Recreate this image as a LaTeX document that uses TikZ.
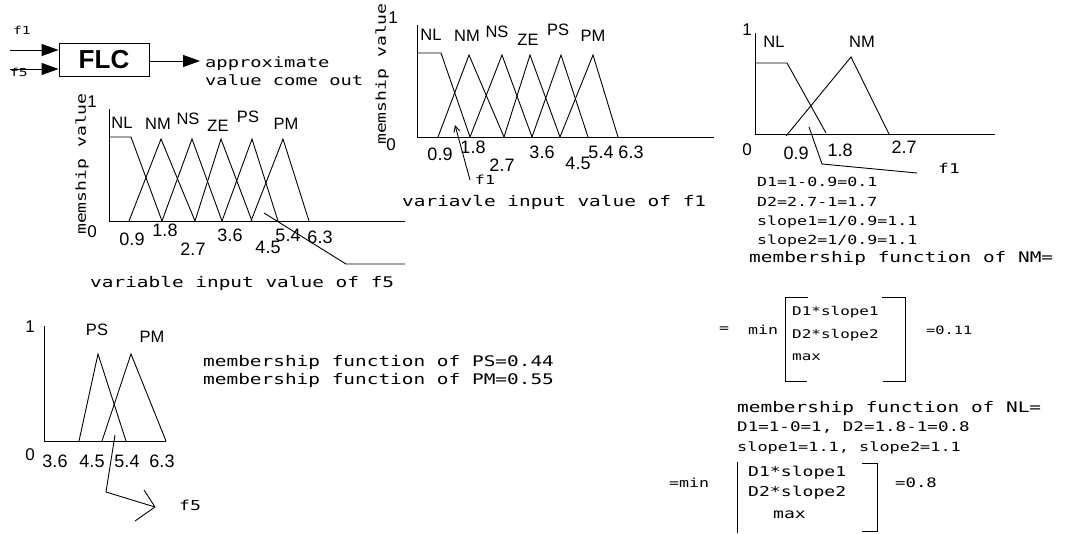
\documentclass[tikz,border=0pt]{standalone}
\usepackage{fontspec}
\setmainfont{Liberation Sans}
\newfontfamily\cad[FakeStretch=1.33]{DejaVu Sans Mono}
\usetikzlibrary{arrows.meta}
\newcommand\cs[1]{\cad\fontsize{#1}{#1}\selectfont}
\newcommand\ls[1]{\fontsize{#1}{#1}\selectfont}
\tikzset{
  ln/.style={line width=0.9pt},
  tx/.style={anchor=west, inner sep=0pt},
  cc/.style={inner sep=0pt},
  lab/.style={inner sep=0pt, font=\ls{16.5}},
  tick/.style={inner sep=0pt, font=\ls{18}},
  big/.style={-{Triangle[length=17pt,width=12pt]}},
  barb/.style={-{Straight Barb[length=6pt,width=6pt]}}
}
\begin{document}
\begin{tikzpicture}[x=1pt,y=-1pt]
\useasboundingbox (0,0) rectangle (1078,533);

% ---------- FLC block ----------
\node[draw, ln, minimum width=90pt, minimum height=33pt, inner sep=0pt, font=\ls{26}\bfseries] (flc) at (104,59.5) {FLC};
\coordinate (i1) at (10,50);
\coordinate (i5) at (10,69);
\coordinate (o) at (200,61);
\draw[ln, big] (i1) -- (i1 -| flc.west);
\draw[ln, big] (i5) -- (i5 -| flc.west);
\draw[ln, big] (flc.east |- o) -- (o);
\node[cc, font=\cs{11}] (lf1) at (22,30) {f1};
\node[cc, font=\cs{11}] (lf5) at (19,72) {f5};
\node[tx, font=\cs{14.1}] (ap1) at (205,64) {approximate};
\node[tx, font=\cs{14.1}] (ap2) at (205,80) {value come out};

% ---------- left graph (f5) ----------
\draw[ln] (109,109) -- (109,221) -- (405,221);
\draw[ln] (109,137) -- (131,137) -- (162,221);
\draw[ln] (129,221) -- (161,139) -- (195,221);
\draw[ln] (162,221) -- (192,139) -- (222,221);
\draw[ln] (195,221) -- (221,139) -- (252,221);
\draw[ln] (222,221) -- (252,139) -- (278,221);
\draw[ln] (251,221) -- (283,139) -- (309,221);
\coordinate (p5a) at (264,213);
\coordinate (p5b) at (346,264);
\coordinate (p5c) at (405,264);
\draw[ln] (p5a) -- (p5b) -- (p5c);
\node[cc, font=\ls{17}] (l1) at (92,102) {1};
\node[cc, font=\ls{17}] (l0) at (92,232) {0};
\node[cc, rotate=90, font=\cs{13.6}] (lmv) at (82,164) {memship value};
\node[lab] (lNL) at (122,123) {NL};
\node[lab] (lNM) at (158,124) {NM};
\node[lab] (lNS) at (188,119) {NS};
\node[lab] (lZE) at (218,126) {ZE};
\node[lab] (lPS) at (248,117) {PS};
\node[lab] (lPM) at (286,124) {PM};
\node[tick] (lt1) at (132,239) {0.9};
\node[tick] (lt2) at (165,230) {1.8};
\node[tick] (lt3) at (193,249) {2.7};
\node[tick] (lt4) at (230,235) {3.6};
\node[tick] (lt5) at (268,247) {4.5};
\node[tick] (lt6) at (288,235) {5.4};
\node[tick] (lt7) at (320,237) {6.3};
\node[tx, font=\cs{14.6}] (lvar) at (90,283) {variable input value of f5};

% ---------- middle graph (f1) ----------
\draw[ln] (417,25) -- (417,137) -- (714,137);
\draw[ln] (417,53) -- (441,53) -- (470,137);
\draw[ln] (438,137) -- (469,55) -- (504,137);
\draw[ln] (470,137) -- (502,55) -- (532,137);
\draw[ln] (504,137) -- (530,55) -- (560,137);
\draw[ln] (532,137) -- (561,55) -- (588,137);
\draw[ln] (560,137) -- (593,55) -- (618,137);
\coordinate (p1a) at (470,180);
\coordinate (p1b) at (455,125);
\draw[ln, barb] (p1a) -- (p1b);
\node[cc, font=\cs{12.5}] (mf1) at (485,180) {f1};
\node[cc, font=\ls{17}] (m1) at (393,18) {1};
\node[cc, font=\ls{17}] (m0) at (391,145) {0};
\node[cc, rotate=90, font=\cs{13.6}] (mmv) at (382,74) {memship value};
\node[lab] (mNL) at (431,35) {NL};
\node[lab] (mNM) at (467,36) {NM};
\node[lab] (mNS) at (497,32) {NS};
\node[lab] (mZE) at (528,40) {ZE};
\node[lab] (mPS) at (558,30) {PS};
\node[lab] (mPM) at (593,36) {PM};
\node[tick] (mt1) at (440,154) {0.9};
\node[tick] (mt2) at (473,147) {1.8};
\node[tick] (mt3) at (502,165) {2.7};
\node[tick] (mt4) at (542,152) {3.6};
\node[tick] (mt5) at (578,163) {4.5};
\node[tick] (mt6) at (601,152) {5.4};
\node[tick] (mt7) at (631,152) {6.3};
\node[tx, font=\cs{14.6}] (mvar) at (402,202) {variavle input value of f1};

% ---------- right graph ----------
\draw[ln] (755,33) -- (755,134) -- (995,134);
\draw[ln] (755,63) -- (787,63) -- (826,133);
\draw[ln] (786,136) -- (851,57) -- (889,134);
\coordinate (q1a) at (809,127);
\coordinate (q1b) at (822,164);
\coordinate (q1c) at (917,173);
\draw[ln] (q1a) -- (q1b) -- (q1c);
\node[cc, font=\cs{13.5}] (rf1) at (949,168) {f1};
\node[cc, font=\ls{17}] (r1) at (747,30) {1};
\node[lab] (rNL) at (774,42) {NL};
\node[lab] (rNM) at (862,42) {NM};
\node[cc, font=\ls{17}] (r0) at (747,150) {0};
\node[tick] (rt1) at (796,153) {0.9};
\node[tick] (rt2) at (840,150) {1.8};
\node[tick] (rt3) at (904,147) {2.7};

\node[tx, font=\cs{12.5}] (d1) at (757,182) {D1=1-0.9=0.1};
\node[tx, font=\cs{12.5}] (d2) at (757,202) {D2=2.7-1=1.7};
\node[tx, font=\cs{12.5}] (s1) at (757,222) {slope1=1/0.9=1.1};
\node[tx, font=\cs{12.5}] (s2) at (757,241) {slope2=1/0.9=1.1};
\node[tx, font=\cs{14.6}] (mfnm) at (749,258) {membership function of NM=};

% first min bracket
\node[cc, font=\cs{12.5}] (eq1) at (724,330) {=};
\node[tx, font=\cs{12.5}] (min1) at (748,330) {min};
\draw[ln] (808,297) -- (785,297) -- (785,381) -- (807,381);
\draw[ln] (882,297) -- (905,297) -- (905,381) -- (883,381);
\node[tx, font=\cs{12}] (b1a) at (792,312) {D1*slope1};
\node[tx, font=\cs{12}] (b1b) at (792,335) {D2*slope2};
\node[tx, font=\cs{12}] (b1c) at (792,357) {max};
\node[tx, font=\cs{11.5}] (r011) at (926,330) {=0.11};

% second block
\node[tx, font=\cs{14.6}] (mfnl) at (737,408) {membership function of NL=};
\node[tx, font=\cs{13.2}] (dd) at (737,428) {D1=1-0=1, D2=1.8-1=0.8};
\node[tx, font=\cs{12.7}] (ss) at (737,448) {slope1=1.1, slope2=1.1};
\node[tx, font=\cs{12.5}] (min2) at (669,483) {=min};
\draw[ln] (737,462) -- (737,533);
\draw[ln] (862,463) -- (877,463) -- (877,531) -- (862,531);
\node[tx, font=\cs{13.6}] (b2a) at (748,473) {D1*slope1};
\node[tx, font=\cs{13.6}] (b2b) at (748,493) {D2*slope2};
\node[tx, font=\cs{13.6}] (b2c) at (773,515) {max};
\node[tx, font=\cs{13}] (r08) at (895,483) {=0.8};

% ---------- bottom-left graph ----------
\draw[ln] (44,326) -- (44,441) -- (166,441);
\draw[ln] (79,441) -- (98,354) -- (126,441);
\draw[ln] (102,441) -- (131,354) -- (166,441);
\coordinate (r5a) at (115,435);
\coordinate (r5b) at (106,492);
\coordinate (r5c) at (155,507);
\coordinate (r5w1) at (144,490);
\coordinate (r5w2) at (135,521);
\draw[ln] (r5a) -- (r5b) -- (r5c);
\draw[ln] (r5w1) -- (r5c) -- (r5w2);
\node[cc, font=\cs{13.7}] (bf5) at (190,505) {f5};
\node[cc, font=\ls{17}] (b1) at (30,327) {1};
\node[lab] (bPS) at (97,330) {PS};
\node[lab] (bPM) at (152,337) {PM};
\node[cc, font=\ls{17}] (b0) at (30,455) {0};
\node[tick] (bt1) at (55,461) {3.6};
\node[tick] (bt2) at (92,461) {4.5};
\node[tick] (bt3) at (127,461) {5.4};
\node[tick] (bt4) at (162,461) {6.3};
\node[tx, font=\cs{14.6}] (mps) at (203,362) {membership function of PS=0.44};
\node[tx, font=\cs{14.6}] (mpm) at (203,380) {membership function of PM=0.55};
\end{tikzpicture}
\end{document}
